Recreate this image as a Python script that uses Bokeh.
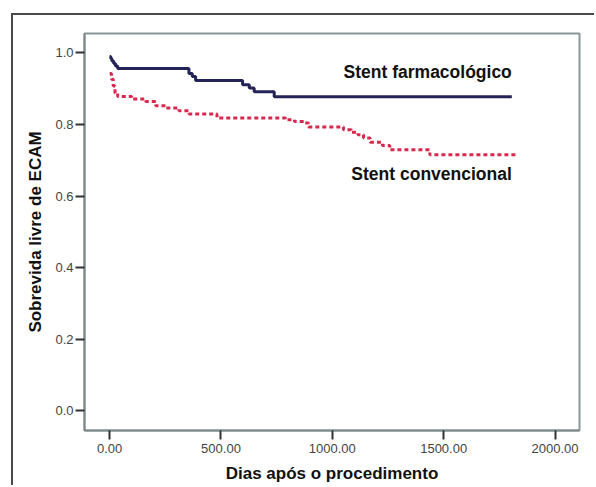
from bokeh.plotting import figure
from bokeh.models import (ColumnDataSource, FixedTicker, PrintfTickFormatter,
                          Range1d, Label)
from bokeh.embed import file_html
from bokeh.resources import INLINE

# ---- data ----
blue_days = [0, 5, 10, 18, 26, 36, 356, 371, 386, 597, 627, 649, 739, 1806]
blue_surv = [0.990, 0.984, 0.977, 0.970, 0.963, 0.956, 0.942, 0.934, 0.923,
             0.911, 0.902, 0.891, 0.877, 0.877]

red_days = [0, 8, 16, 24, 36, 99, 162, 207, 252, 311, 356, 482, 790, 830,
            875, 893, 1050, 1085, 1115, 1140, 1170, 1225, 1258, 1288, 1438, 1829]
red_surv = [0.942, 0.926, 0.907, 0.888, 0.878, 0.871, 0.864, 0.852, 0.846,
            0.838, 0.829, 0.818, 0.813, 0.808, 0.804, 0.793, 0.785, 0.778,
            0.771, 0.762, 0.750, 0.741, 0.729, 0.729, 0.715, 0.715]

x_ticks = [0, 500, 1000, 1500, 2000]
y_ticks = [0.0, 0.2, 0.4, 0.6, 0.8, 1.0]

series_names = ["Stent farmacológico", "Stent convencional"]
x_title = "Dias após o procedimento"
y_title = "Sobrevida livre de ECAM"

BOLD = "Liberation Sans"

# figure host sits at page (11,13) with a 2px top/left border
p = figure(output_backend="svg", toolbar_location=None,
           width=583, height=472,
           min_border_left=71, min_border_top=18, min_border_right=17,
           min_border_bottom=57,
           x_range=Range1d(-113, 2110), y_range=Range1d(-0.055, 1.054))
p.styles = {"margin-left": "11px", "margin-top": "13px",
            "border-top": "2px solid #4a4a4a",
            "border-left": "2px solid #4a4a4a"}

p.background_fill_color = "white"
p.border_fill_color = "white"
p.outline_line_color = "#8c9898"
p.outline_line_width = 2
p.xgrid.visible = False
p.ygrid.visible = False

for ax in (p.xaxis[0], p.yaxis[0]):
    ax.axis_line_color = "#7f8a8a"
    ax.axis_line_width = 2
    ax.major_tick_line_color = "#333333"
    ax.major_tick_line_width = 2
    ax.major_tick_out = 9
    ax.major_tick_in = 0
    ax.minor_tick_line_color = None
    ax.major_label_text_font = "Liberation Sans"
    ax.major_label_text_font_size = "13px"
    ax.major_label_text_color = "#444444"
    ax.axis_label_text_font = BOLD
    ax.axis_label_text_font_style = "bold"
    ax.axis_label_text_font_size = "17px"
    ax.axis_label_text_color = "#111111"

p.xaxis.ticker = FixedTicker(ticks=x_ticks)
p.yaxis.ticker = FixedTicker(ticks=y_ticks)
p.xaxis.formatter = PrintfTickFormatter(format="%.2f")
p.yaxis.formatter = PrintfTickFormatter(format="%.1f")
p.xaxis.major_label_standoff = 4
p.yaxis.major_label_standoff = 2
p.xaxis.axis_label = x_title
p.yaxis.axis_label = y_title
p.xaxis.axis_label_standoff = 8
p.yaxis.axis_label_standoff = 7

blue_src = ColumnDataSource(dict(x=blue_days, y=blue_surv))
red_src = ColumnDataSource(dict(x=red_days, y=red_surv))

p.step("x", "y", source=red_src, mode="after", line_color="#d8284e",
       line_width=3, line_dash="4 3")
p.step("x", "y", source=blue_src, mode="after", line_color="#232358",
       line_width=3)

p.add_layout(Label(x=1806, y=0.946, text=series_names[0], text_align="right",
                   text_baseline="middle", text_font=BOLD,
                   text_font_style="bold", text_font_size="17.5px",
                   text_color="#111111"))
p.add_layout(Label(x=1806, y=0.662, text=series_names[1], text_align="right",
                   text_baseline="middle", text_font=BOLD,
                   text_font_style="bold", text_font_size="17.5px",
                   text_color="#111111"))

open("out.html", "w").write(file_html(p, INLINE))
